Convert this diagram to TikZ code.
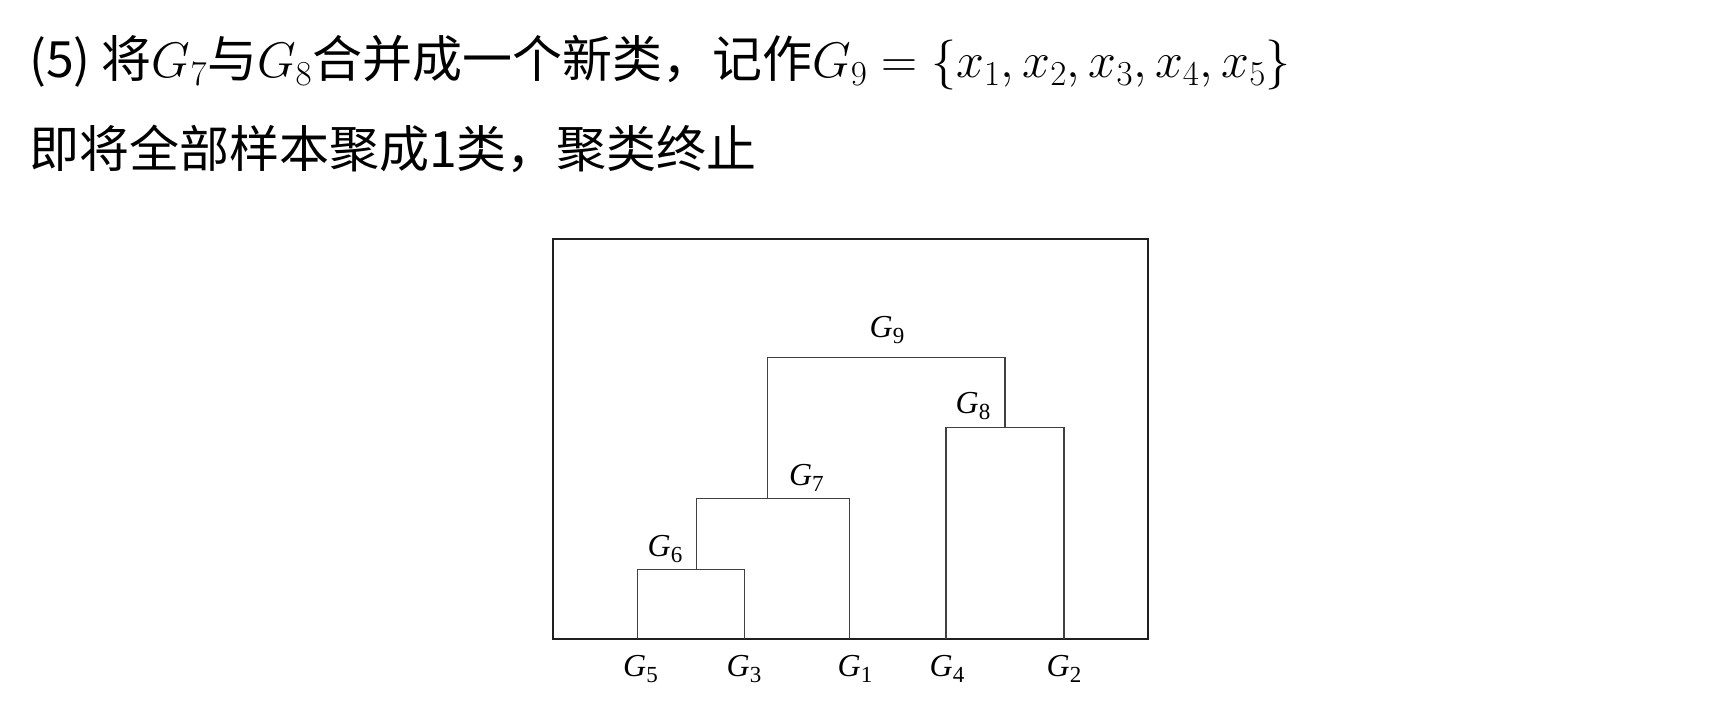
\RequirePackage{fix-cm}
\documentclass[tikz,border=0pt]{standalone}
\usepackage{amsmath}
\usepackage{fontspec}
\setmainfont{Noto Sans CJK SC}
\newfontfamily\timesf{Liberation Serif}
\usepackage{tikz}
\usetikzlibrary{calc}
\usetikzlibrary{positioning}

\newcommand{\glab}[1]{{\timesf\fontsize{32}{32}\selectfont\itshape G}\raisebox{-6pt}{\timesf\fontsize{23}{23}\selectfont #1}}

\tikzset{
	frame/.style = {line width=1.8pt, black!88},
	link/.style = {line width=1.5pt, black!75},
	glabel/.style = {inner sep=0pt, anchor=base},
	headline/.style = {inner sep=0pt, anchor=base west, font=\fontsize{50}{60}\selectfont}
}

\begin{document}
\begin{tikzpicture}[x=1pt, y=-1pt]
				\useasboundingbox (0, 0) rectangle (1725, 702);
				
				% Text
				\node[headline] (line1) at (29, 77.5) {(5) 将$G_7$与$G_8$合并成一个新类，记作$G_9 = \{x_1, x_2, x_3, x_4, x_5\}$};
				\node[headline] (line2) at (29, 167) {即将全部样本聚成1类，聚类终止};
				
				% Frame
				\draw[frame] (553.3, 239.3) rectangle (1147.7, 639.3);
				
				% Leaves and merges
				\coordinate (l5) at (637.3, 639.3);
				\coordinate (l3) at (744.3, 639.3);
				\coordinate (l1) at (849.3, 639.3);
				\coordinate (l4) at (946.2, 639.3);
				\coordinate (l2) at (1063.9, 639.3);
				\coordinate (j6) at (696.7, 569.3);
				\coordinate (j7) at (767.7, 498.4);
				\coordinate (j8) at (1005, 427.3);
				\coordinate (j9) at (886, 357.3);
				
				% Edges
				\draw[link] (l5) |- (j6) -| (l3);
				\draw[link] (j6) |- (j7) -| (l1);
				\draw[link] (l4) |- (j8) -| (l2);
				\draw[link] (j7) |- (j9) -| (j8);
				
				% Labels
				\node[glabel] (g5) at (640.5, 676) {\glab{5}};
				\node[glabel] (g3) at (744, 676) {\glab{3}};
				\node[glabel] (g1) at (855, 676) {\glab{1}};
				\node[glabel] (g4) at (947, 676) {\glab{4}};
				\node[glabel] (g2) at (1064, 676) {\glab{2}};
				\node[glabel] (g6) at (665, 556) {\glab{6}};
				\node[glabel] (g7) at (806.4, 485.5) {\glab{7}};
				\node[glabel] (g8) at (973, 413.5) {\glab{8}};
				\node[glabel] (g9) at (887, 337) {\glab{9}};
			\end{tikzpicture}
\end{document}
